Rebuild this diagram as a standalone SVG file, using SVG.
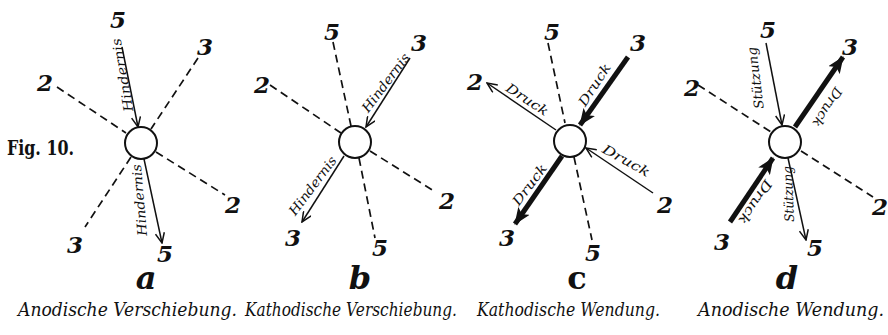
<svg xmlns="http://www.w3.org/2000/svg" width="888" height="335" viewBox="0 0 888 335">
<style>
.bg{fill:#fff}
.dash{stroke:#111;stroke-width:1.7;stroke-dasharray:8,5;fill:none}
.thin{stroke:#111;stroke-width:1.5;fill:none;marker-end:url(#vh)}
.thick{stroke:#111;stroke-width:5;fill:none;marker-end:url(#th)}
.ctr{fill:#fff;stroke:#111;stroke-width:2}
.num{font-family:"DejaVu Serif","Liberation Serif",serif;font-weight:bold;font-style:italic;font-size:23px;fill:#111;text-anchor:middle}
.let{font-family:"DejaVu Serif","Liberation Serif",serif;font-weight:bold;font-style:italic;font-size:32px;fill:#111;text-anchor:middle}
.lab{font-family:"DejaVu Serif","Liberation Serif",serif;font-style:italic;font-size:13px;fill:#111;text-anchor:middle}
.cap{font-family:"DejaVu Serif","Liberation Serif",serif;font-style:italic;font-size:18px;fill:#111}
.fig{font-family:"DejaVu Serif","Liberation Serif",serif;font-weight:bold;font-size:20px;fill:#111}
</style>
<defs>
<marker id="vh" markerUnits="userSpaceOnUse" markerWidth="12" markerHeight="10" refX="11" refY="5" orient="auto" viewBox="0 0 12 10">
<path d="M1,0.5 L11,5 L1,9.5" fill="none" stroke="#111" stroke-width="1.5"/>
</marker>
<marker id="th" markerUnits="userSpaceOnUse" markerWidth="18" markerHeight="14" refX="16" refY="7" orient="auto" viewBox="0 0 18 14">
<path d="M0,0 L17,7 L0,14 L4,7 Z" fill="#111"/>
</marker>
</defs>
<rect class="bg" x="0" y="0" width="888" height="335"/>
<text class="fig" x="7" y="155" textLength="67" lengthAdjust="spacingAndGlyphs">Fig. 10.</text>

<!-- Figure a -->
<g id="fig-a">
<g id="a-connectors">
<line class="dash" x1="57" y1="87" x2="126" y2="133"/>
<line class="dash" x1="156" y1="152" x2="225" y2="195"/>
<line class="dash" x1="198" y1="58" x2="151" y2="129"/>
<line class="dash" x1="131" y1="157" x2="85" y2="227"/>
<line class="thin" x1="122" y1="47" x2="138" y2="127"/>
<line class="thin" x1="144" y1="159" x2="162" y2="243"/>
</g>
<g id="a-center"><circle class="ctr" cx="141" cy="143" r="16"/></g>
<g id="a-labels">
<text class="lab" transform="translate(123,75) rotate(-100)" y="4" textLength="74" lengthAdjust="spacingAndGlyphs">Hindernis</text>
<text class="lab" transform="translate(140,200) rotate(-95)" y="4" textLength="72" lengthAdjust="spacingAndGlyphs">Hindernis</text>
<text class="num" x="118" y="28">5</text>
<text class="num" x="205" y="55">3</text>
<text class="num" x="45" y="91">2</text>
<text class="num" x="75" y="253">3</text>
<text class="num" x="165" y="262">5</text>
<text class="num" x="233" y="213">2</text>
<text class="let" x="146" y="289">a</text>
<text class="cap" x="18" y="316" textLength="219" lengthAdjust="spacingAndGlyphs">Anodische Verschiebung.</text>
</g>
</g>

<!-- Figure b -->
<g id="fig-b">
<g id="b-connectors">
<line class="dash" x1="333" y1="42" x2="351" y2="126"/>
<line class="dash" x1="359" y1="158" x2="375" y2="238"/>
<line class="dash" x1="270" y1="85" x2="341" y2="133"/>
<line class="dash" x1="370" y1="151" x2="434" y2="191"/>
<line class="thin" x1="410" y1="58" x2="366" y2="127"/>
<line class="thin" x1="344" y1="156" x2="302" y2="222"/>
</g>
<g id="b-center"><circle class="ctr" cx="355" cy="142" r="16"/></g>
<g id="b-labels">
<text class="lab" transform="translate(386,83) rotate(-53)" y="4" textLength="70" lengthAdjust="spacingAndGlyphs">Hindernis</text>
<text class="lab" transform="translate(313,186) rotate(-53)" y="4" textLength="70" lengthAdjust="spacingAndGlyphs">Hindernis</text>
<text class="num" x="332" y="40">5</text>
<text class="num" x="419" y="51">3</text>
<text class="num" x="262" y="93">2</text>
<text class="num" x="293" y="246">3</text>
<text class="num" x="380" y="256">5</text>
<text class="num" x="447" y="209">2</text>
<text class="let" x="360" y="289">b</text>
<text class="cap" x="245" y="316" textLength="212" lengthAdjust="spacingAndGlyphs">Kathodische Verschiebung.</text>
</g>
</g>

<!-- Figure c -->
<g id="fig-c">
<g id="c-connectors">
<line class="dash" x1="548" y1="43" x2="565" y2="123"/>
<line class="dash" x1="574" y1="157" x2="592" y2="240"/>
<line class="thin" x1="556" y1="130" x2="487" y2="83"/>
<line class="thick" x1="628" y1="57" x2="580" y2="125"/>
<line class="thick" x1="562" y1="156" x2="515" y2="224"/>
<line class="thin" x1="653" y1="193" x2="586" y2="148"/>
</g>
<g id="c-center"><circle class="ctr" cx="570" cy="141" r="16"/></g>
<g id="c-labels">
<text class="lab" transform="translate(527,100) rotate(33)" y="4" textLength="48" lengthAdjust="spacingAndGlyphs">Druck</text>
<text class="lab" transform="translate(595,85) rotate(-57)" y="4" textLength="48" lengthAdjust="spacingAndGlyphs">Druck</text>
<text class="lab" transform="translate(530,185) rotate(-53)" y="4" textLength="48" lengthAdjust="spacingAndGlyphs">Druck</text>
<text class="lab" transform="translate(626,161) rotate(29)" y="4" textLength="52" lengthAdjust="spacingAndGlyphs">Druck</text>
<text class="num" x="552" y="40">5</text>
<text class="num" x="638" y="51">3</text>
<text class="num" x="475" y="90">2</text>
<text class="num" x="507" y="246">3</text>
<text class="num" x="593" y="261">5</text>
<text class="num" x="665" y="213">2</text>
<text class="let" x="577" y="289" style="font-style:normal">c</text>
<text class="cap" x="477" y="316" textLength="183" lengthAdjust="spacingAndGlyphs">Kathodische Wendung.</text>
</g>
</g>

<!-- Figure d -->
<g id="fig-d">
<g id="d-connectors">
<line class="dash" x1="698" y1="85" x2="771" y2="132"/>
<line class="dash" x1="801" y1="151" x2="873" y2="197"/>
<line class="thin" x1="766" y1="43" x2="782" y2="125"/>
<line class="thick" x1="795" y1="127" x2="843" y2="57"/>
<line class="thick" x1="730" y1="222" x2="773" y2="158"/>
<line class="thin" x1="788" y1="158" x2="806" y2="240"/>
</g>
<g id="d-center"><circle class="ctr" cx="785" cy="142" r="16"/></g>
<g id="d-labels">
<text class="lab" transform="translate(756,78) rotate(-97)" y="4" textLength="62" lengthAdjust="spacingAndGlyphs">Stützung</text>
<text class="lab" transform="translate(789,194) rotate(-92)" y="4" textLength="56" lengthAdjust="spacingAndGlyphs">Stützung</text>
<text class="lab" transform="translate(827,107) rotate(122)" y="4" textLength="44" lengthAdjust="spacingAndGlyphs">Druck</text>
<text class="lab" transform="translate(755,202) rotate(123)" y="4" textLength="50" lengthAdjust="spacingAndGlyphs">Druck</text>
<text class="num" x="768" y="38">5</text>
<text class="num" x="850" y="55">3</text>
<text class="num" x="692" y="96">2</text>
<text class="num" x="722" y="250">3</text>
<text class="num" x="815" y="256">5</text>
<text class="num" x="880" y="215">2</text>
<text class="let" x="787" y="289">d</text>
<text class="cap" x="698" y="316" textLength="186" lengthAdjust="spacingAndGlyphs">Anodische Wendung.</text>
</g>
</g>
</svg>
